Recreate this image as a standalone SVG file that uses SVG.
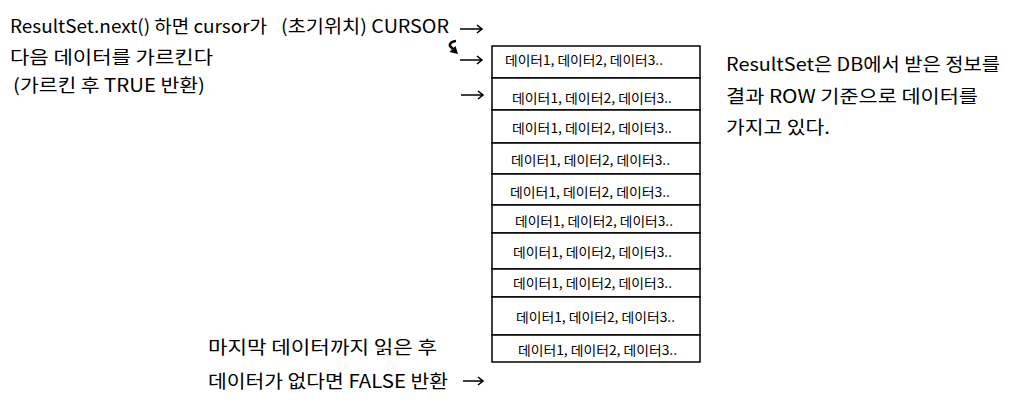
<svg xmlns="http://www.w3.org/2000/svg" width="1015" height="413" viewBox="0 0 1015 413">
<style>
.t{font-family:"Malgun Gothic","Noto Sans CJK KR","Noto Sans",sans-serif;font-size:18px;fill:#000}
.c{font-family:"Malgun Gothic","Noto Sans CJK KR","Noto Sans",sans-serif;font-size:13px;fill:#000}
.row{fill:#fff;stroke:#000;stroke-width:1.5}
.arr{fill:none;stroke:#000;stroke-width:1.6}
</style>
<rect width="1015" height="413" fill="#fff"/>
<g id="label-next">
<text class="t" y="33"><tspan x="10" textLength="257" lengthAdjust="spacingAndGlyphs">ResultSet.next() 하면 cursor가</tspan><tspan x="281" textLength="168" lengthAdjust="spacingAndGlyphs">(초기위치) CURSOR</tspan></text>
<text class="t" x="10" y="64" textLength="203" lengthAdjust="spacingAndGlyphs">다음 데이터를 가르킨다</text>
<text class="t" x="13" y="92" textLength="192" lengthAdjust="spacingAndGlyphs">(가르킨 후 TRUE 반환)</text>
</g>
<g id="label-resultset">
<text class="t" x="726" y="71" textLength="274" lengthAdjust="spacingAndGlyphs">ResultSet은 DB에서 받은 정보를</text>
<text class="t" x="726" y="103" textLength="252" lengthAdjust="spacingAndGlyphs">결과 ROW 기준으로 데이터를</text>
<text class="t" x="726" y="134" textLength="104" lengthAdjust="spacingAndGlyphs">가지고 있다.</text>
</g>
<g id="label-false">
<text class="t" x="208" y="354" textLength="229" lengthAdjust="spacingAndGlyphs">마지막 데이터까지 읽은 후</text>
<text class="t" x="208" y="388" textLength="240" lengthAdjust="spacingAndGlyphs">데이터가 없다면 FALSE 반환</text>
</g>
<g id="table">
<g id="row1"><rect class="row" x="492" y="46" width="208" height="32"/><text class="c" x="505" y="65" textLength="158" lengthAdjust="spacingAndGlyphs">데이터1, 데이터2, 데이터3..</text></g>
<g id="row2"><rect class="row" x="492" y="78" width="208" height="32"/><text class="c" x="512" y="103" textLength="160" lengthAdjust="spacingAndGlyphs">데이터1, 데이터2, 데이터3..</text></g>
<g id="row3"><rect class="row" x="492" y="110" width="208" height="33"/><text class="c" x="512" y="133" textLength="160" lengthAdjust="spacingAndGlyphs">데이터1, 데이터2, 데이터3..</text></g>
<g id="row4"><rect class="row" x="492" y="143" width="208" height="31"/><text class="c" x="511" y="165" textLength="159" lengthAdjust="spacingAndGlyphs">데이터1, 데이터2, 데이터3..</text></g>
<g id="row5"><rect class="row" x="492" y="174" width="208" height="31"/><text class="c" x="510" y="197" textLength="160" lengthAdjust="spacingAndGlyphs">데이터1, 데이터2, 데이터3..</text></g>
<g id="row6"><rect class="row" x="492" y="205" width="208" height="28"/><text class="c" x="515" y="226" textLength="158" lengthAdjust="spacingAndGlyphs">데이터1, 데이터2, 데이터3..</text></g>
<g id="row7"><rect class="row" x="492" y="233" width="208" height="36"/><text class="c" x="513" y="257" textLength="159" lengthAdjust="spacingAndGlyphs">데이터1, 데이터2, 데이터3..</text></g>
<g id="row8"><rect class="row" x="492" y="269" width="208" height="28"/><text class="c" x="513" y="288" textLength="159" lengthAdjust="spacingAndGlyphs">데이터1, 데이터2, 데이터3..</text></g>
<g id="row9"><rect class="row" x="492" y="297" width="208" height="38"/><text class="c" x="516" y="322" textLength="159" lengthAdjust="spacingAndGlyphs">데이터1, 데이터2, 데이터3..</text></g>
<g id="row10"><rect class="row" x="492" y="335" width="208" height="27"/><text class="c" x="518" y="355" textLength="159" lengthAdjust="spacingAndGlyphs">데이터1, 데이터2, 데이터3..</text></g>
</g>
<g id="connectors">
<path class="arr" d="M460,29 H482 M477,25 L482,29 L477,33"/>
<path class="arr" d="M460,60 H482 M477,56 L482,60 L477,64"/>
<path class="arr" d="M461,95 H483 M478,91 L483,95 L478,99"/>
<path class="arr" d="M463,381 H483 M478,377 L483,381 L478,385"/>
<path d="M456,41 Q449,42 450,46 L453,49" fill="none" stroke="#000" stroke-width="2.6"/>
<polygon points="458,54 449.5,52 455.5,46" fill="#000"/>
</g>
</svg>
